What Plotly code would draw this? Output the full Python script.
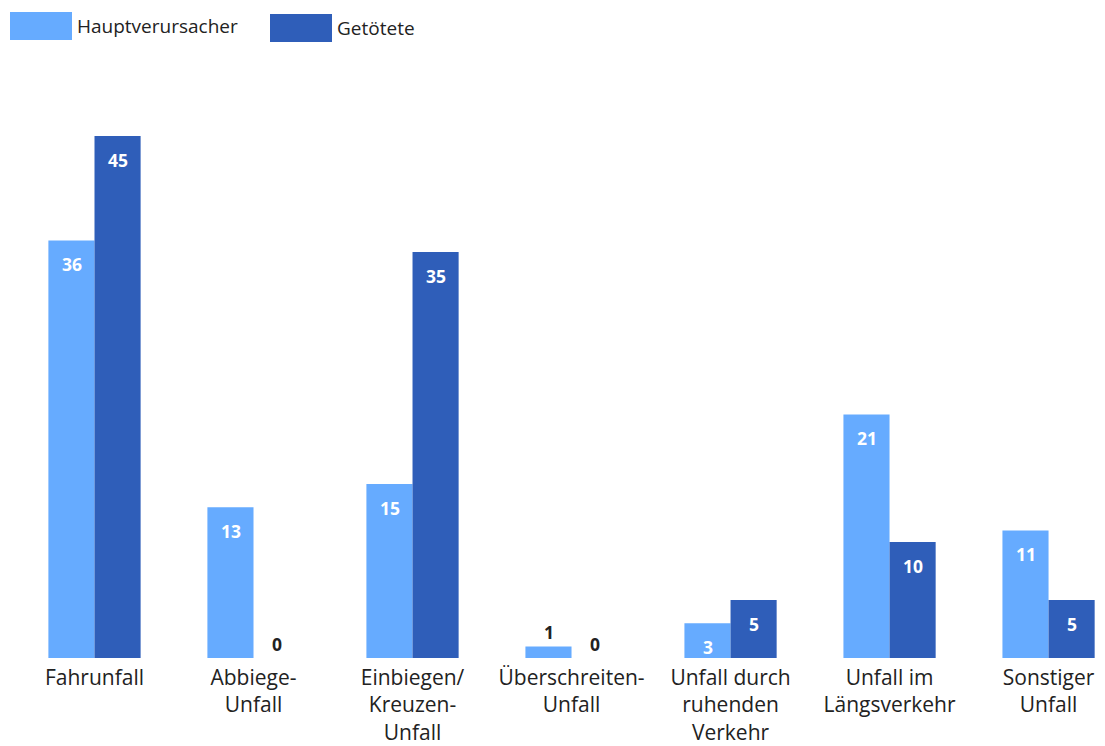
import plotly.graph_objects as go

categories = [
    "Fahrunfall",
    "Abbiege-<br>Unfall",
    "Einbiegen/<br>Kreuzen-<br>Unfall",
    "Überschreiten-<br>Unfall",
    "Unfall durch<br>ruhenden<br>Verkehr",
    "Unfall im<br>Längsverkehr",
    "Sonstiger<br>Unfall",
]
hauptverursacher = [36, 13, 15, 1, 3, 21, 11]
getoetete = [45, 0, 35, 0, 5, 10, 5]

LIGHT = "#66ABFF"
DARK = "#2F5EB9"
TEXT = "#222222"
FONT = "Open Sans"

fig = go.Figure()
fig.add_trace(go.Bar(x=categories, y=hauptverursacher, name="Hauptverursacher",
                     marker=dict(color=LIGHT, line=dict(width=0))))
fig.add_trace(go.Bar(x=categories, y=getoetete, name="Getötete",
                     marker=dict(color=DARK, line=dict(width=0))))

# value labels: inside near the top for taller bars, above the bar for tiny ones
annotations = []
for series, shift in ((hauptverursacher, -23), (getoetete, 23)):
    for cat, v in zip(categories, series):
        inside = v >= 3
        annotations.append(dict(
            x=cat, y=v, xref="x", yref="y", text=f"<b>{v}</b>", showarrow=False,
            xshift=shift, yanchor="top" if inside else "bottom",
            yshift=-10 if inside else 0,
            font=dict(family=FONT, size=17.5, color="white" if inside else TEXT),
        ))

# legend swatches and labels (pixel positions converted to paper coordinates)
PLOT_L, PLOT_W, PLOT_B, PLOT_H = 15, 1090, 658, 578
legend_items = [("Hauptverursacher", LIGHT, 10, 12), ("Getötete", DARK, 270, 14)]
shapes = []
for label, color, px, py in legend_items:
    shapes.append(dict(type="rect", xref="paper", yref="paper",
                       x0=(px - PLOT_L) / PLOT_W, x1=(px + 62 - PLOT_L) / PLOT_W,
                       y0=(PLOT_B - (py + 28)) / PLOT_H, y1=(PLOT_B - py) / PLOT_H,
                       fillcolor=color, line=dict(width=0), layer="above"))
    annotations.append(dict(x=(px + 65 - PLOT_L) / PLOT_W, y=(PLOT_B - (py + 14)) / PLOT_H,
                            xref="paper", yref="paper", xanchor="left", yanchor="middle",
                            text=label, showarrow=False,
                            font=dict(family=FONT, size=19, color=TEXT)))

fig.update_layout(
    width=1105, height=746,
    margin=dict(l=PLOT_L, r=0, t=80, b=88),
    paper_bgcolor="white", plot_bgcolor="white",
    barmode="group", bargap=0.42, bargroupgap=0,
    showlegend=False,
    font=dict(family=FONT, color=TEXT),
    xaxis=dict(range=[-0.5, 6.355], showgrid=False, showline=False, ticks="",
               ticklabelstandoff=5, automargin=False,
               tickfont=dict(family=FONT, size=21, color=TEXT)),
    yaxis=dict(range=[0, 49.83], visible=False, automargin=False),
    annotations=annotations,
    shapes=shapes,
)

fig.write_html("out.html")
